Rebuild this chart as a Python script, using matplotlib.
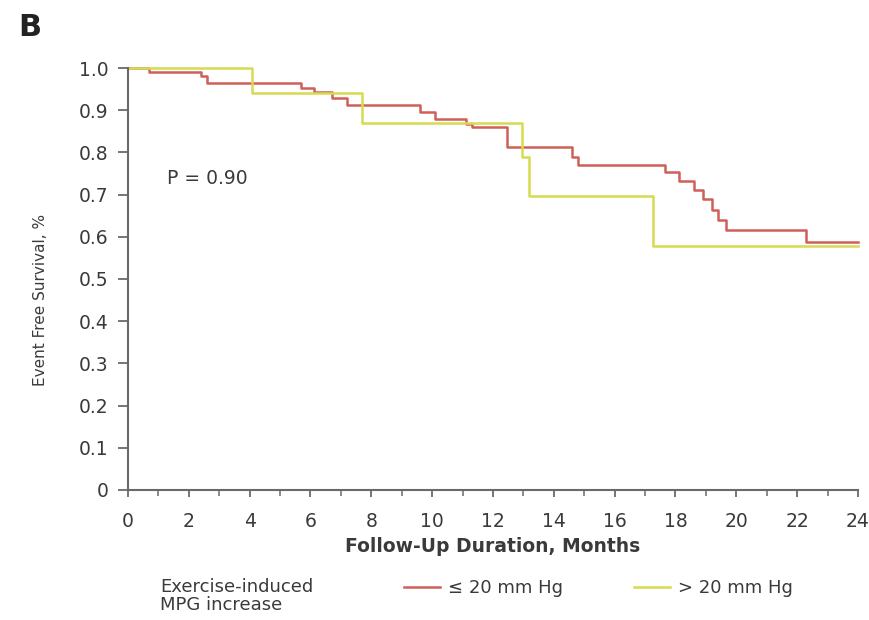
"""Kaplan-Meier style event-free survival curves by exercise-induced MPG increase."""
import matplotlib
matplotlib.use("Agg")
import matplotlib.pyplot as plt
from matplotlib.ticker import MultipleLocator

# Step curves (time in months, survival fraction after each event)
low_times = [0, 0.7, 2.4, 2.6, 5.7, 6.1, 6.7, 7.2, 9.6, 10.1, 11.1, 11.3, 12.45,
             14.6, 14.8, 17.65, 18.1, 18.6, 18.9, 19.2, 19.4, 19.65, 22.3, 24]
low_surv = [1.0, 0.99, 0.98, 0.965, 0.952, 0.943, 0.93, 0.912, 0.896, 0.88, 0.868,
            0.86, 0.813, 0.79, 0.77, 0.753, 0.732, 0.711, 0.689, 0.664, 0.64, 0.615,
            0.587, 0.587]

high_times = [0, 4.07, 7.7, 12.95, 13.2, 17.25, 24]
high_surv = [1.0, 0.94, 0.87, 0.79, 0.697, 0.578, 0.578]

x_ticks = list(range(0, 25, 2))
y_ticks = [0, 0.1, 0.2, 0.3, 0.4, 0.5, 0.6, 0.7, 0.8, 0.9, 1.0]
y_tick_labels = ["0", "0.1", "0.2", "0.3", "0.4", "0.5", "0.6", "0.7", "0.8", "0.9", "1.0"]

RED = "#cf5f58"
YELLOW = "#d6db50"
TEXT = "#3a3a3a"
SPINE = "#6a6a6a"

fig = plt.figure(figsize=(8.69, 6.2), dpi=100)
ax = fig.add_axes([0.1473, 0.2097, 0.840, 0.6806])

ax.step(low_times, low_surv, where="post", color=RED, lw=1.8, clip_on=False,
        label="\u2264 20 mm Hg")
ax.step(high_times, high_surv, where="post", color=YELLOW, lw=1.8, clip_on=False,
        label="> 20 mm Hg")

ax.set_xlim(0, 24)
ax.set_ylim(0, 1.0)
ax.set_xticks(x_ticks)
ax.xaxis.set_minor_locator(MultipleLocator(1))
ax.set_yticks(y_ticks)
ax.set_yticklabels(y_tick_labels)

for side in ("top", "right"):
    ax.spines[side].set_visible(False)
for side in ("left", "bottom"):
    ax.spines[side].set_color(SPINE)
    ax.spines[side].set_linewidth(1.5)

ax.tick_params(axis="y", direction="out", length=7, width=1.3, color=SPINE,
               pad=7, labelsize=13.5, labelcolor=TEXT)
ax.tick_params(axis="x", which="major", direction="out", length=5, width=1.3,
               color=SPINE, pad=11, labelsize=13.5, labelcolor=TEXT)
ax.tick_params(axis="x", which="minor", direction="out", length=4, width=1.1,
               color=SPINE)

ax.set_xlabel("Follow-Up Duration, Months", fontsize=13.5, fontweight="bold",
              color=TEXT, labelpad=4)
ax.set_ylabel("Event Free Survival, %", fontsize=11, color=TEXT,
              family=["Liberation Sans Narrow", "DejaVu Sans"])
ax.yaxis.set_label_coords(-0.11, 0.45)

ax.text(1.28, 0.739, "P = 0.90", fontsize=13.5, color=TEXT, va="center")

fig.text(0.021, 0.955, "B", fontsize=22, fontweight="bold", color="#222222",
         va="center")

fig.text(160 / 869, 1 - 578 / 620, "Exercise-induced\nMPG increase", fontsize=13,
         color=TEXT, va="top", ha="left", linespacing=1.0)
fig.legend(loc="center left", bbox_to_anchor=(404 / 869, 1 - 588 / 620), ncol=2,
           frameon=False, fontsize=13, handlelength=2.0, handletextpad=0.45,
           columnspacing=3.9, borderpad=0, borderaxespad=0, labelcolor=TEXT)

fig.savefig("out.png", dpi=100)
